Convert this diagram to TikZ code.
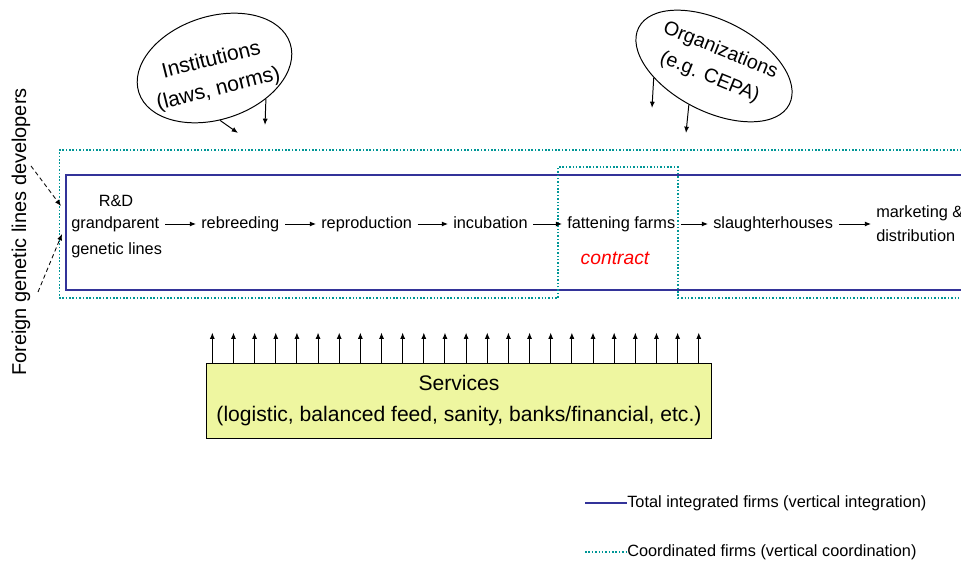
\documentclass[tikz,border=0pt]{standalone}
\usepackage{fontspec}
\setmainfont{Liberation Sans}
\usetikzlibrary{shapes.geometric,arrows.meta,calc}
\definecolor{intblue}{RGB}{51,51,153}
\definecolor{coordteal}{RGB}{0,150,150}
\definecolor{servfill}{RGB}{238,246,160}

\begin{document}
\begin{tikzpicture}[x=0.025cm,y=-0.025cm,>={Latex[length=4.5pt,width=3.6pt]}]
	\tikzstyle{stage}=[inner sep=0pt,text height=0.75em,text depth=0.05em,font=\fontsize{11.6}{17}\selectfont]
	\tikzstyle{link}=[->,line width=0.7pt]
	\tikzstyle{flow}=[link,shorten <=3.9pt,shorten >=3.5pt]
	\tikzstyle{actor}=[draw,ellipse,line width=0.7pt,inner sep=0pt]
	\tikzstyle{integrated}=[draw=intblue,line width=1.6pt]
	\tikzstyle{coordinated}=[draw=coordteal,line width=1.1pt,dash pattern=on 1.1pt off 1.3pt]

	\useasboundingbox (0,0) rectangle (961,563);

	% firm boundaries
	\draw[integrated] (965,175) -- (66,175) -- (66,290) -- (965,290);
	\draw[coordinated] (965,150) -- (59.5,150) -- (59.5,298) -- (558,298) -- (558,167)
		-- (678,167) -- (678,298) -- (965,298);

	% chain
	\node[stage,anchor=base] (rd) at (116,207) {R\&D};
	\node[stage,anchor=west] (gp) at (71,224) {grandparent};
	\node[stage,anchor=base west] (gl) at (71,255) {genetic lines};
	\node[stage,anchor=west] (reb) at (201,224) {rebreeding};
	\node[stage,anchor=west] (rep) at (321,224) {reproduction};
	\node[stage,anchor=west] (inc) at (453,224) {incubation};
	\node[stage,anchor=west] (fat) at (567,224) {fattening farms};
	\node[stage,anchor=west] (sla) at (713,224) {slaughterhouses};
	\node[inner sep=0pt,anchor=west,align=left,font=\fontsize{11.6}{17}\selectfont] (mkt) at (876,224) {marketing \&\\distribution};
	\node[anchor=base,text=red,font=\fontsize{13.7}{16}\selectfont\itshape] (ctr) at (615,265) {contract};

	\draw[flow] (gp.east) -- (reb.west);
	\draw[flow] (reb.east) -- (rep.west);
	\draw[flow] (rep.east) -- (inc.west);
	\draw[flow] (inc.east) -- (fat.west);
	\draw[flow] (fat.east) -- (sla.west);
	\draw[flow] (sla.east) -- (mkt.west);

	% institutions and organizations
	\node[actor,rotate=18,minimum width=3.975cm,minimum height=2.575cm] (inst) at (214.5,68) {};
	\node[rotate=14,align=center,font=\fontsize{15}{21}\selectfont] (insttxt) at (215,75) {Institutions\\(laws, norms)};
	\node[actor,rotate=-27,minimum width=4.225cm,minimum height=2.275cm] (org) at (714,66) {};
	\node[rotate=-22,align=center,font=\fontsize{14}{20.5}\selectfont] (orgtxt) at (715,64) {Organizations\\(e.g. CEPA)};

	\coordinate (inst-a) at (238,133);
	\coordinate (inst-b) at (265,125);
	\coordinate (org-a) at (652,108);
	\coordinate (org-b) at (686,133);
	\draw[link] (inst.258) -- (inst-a);
	\draw[link] (inst.311) -- (inst-b);
	\draw[link] (org.218) -- (org-a);
	\draw[link] (org.264) -- (org-b);

	% foreign developers
	\node[rotate=90,inner sep=0pt,font=\fontsize{14.2}{16}\selectfont] (fgl) at (21,232) {Foreign genetic lines developers};
	\coordinate (fgl-a) at (31,166);
	\coordinate (fgl-b) at (38,292);
	\coordinate (rd-in) at (61,206);
	\coordinate (gl-in) at (62,234);
	\draw[link,dash pattern=on 3pt off 2.2pt,line width=0.6pt] (fgl-a) -- (rd-in);
	\draw[link,dash pattern=on 3pt off 2.2pt,line width=0.6pt] (fgl-b) -- (gl-in);

	% services
	\node[draw,fill=servfill,line width=0.6pt,minimum width=12.61cm,minimum height=1.875cm,
		align=center,font=\fontsize{15}{22}\selectfont] (srv) at (459,400.5)
		{Services\\(logistic, balanced feed, sanity, banks/financial, etc.)};
	\foreach \i in {0,...,23}
		\draw[link] ($(srv.north west)+(6+21.15*\i,0)$) -- ++(0,-30);

	% legend
	\node[stage,anchor=west] (lgint) at (627,503) {Total integrated firms (vertical integration)};
	\node[stage,anchor=west] (lgcoord) at (627,552) {Coordinated firms (vertical coordination)};
	\coordinate (lgint-a) at (585,503);
	\coordinate (lgcoord-a) at (585,552);
	\draw[integrated,line width=1.4pt] (lgint-a) -- (lgint.west);
	\draw[coordinated] (lgcoord-a) -- (lgcoord.west);
\end{tikzpicture}
\end{document}
